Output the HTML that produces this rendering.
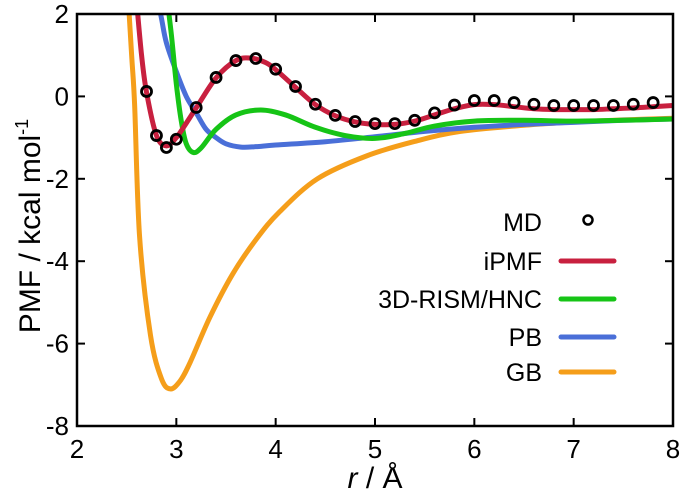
<!DOCTYPE html>
<html><head><meta charset="utf-8"><style>
body{margin:0;background:#fff}
svg{display:block;font-family:"Liberation Sans",sans-serif}
</style></head><body>
<svg id="c" width="680" height="496" viewBox="0 0 680 496">
<defs><clipPath id="cp"><rect x="77" y="14" width="596" height="412"/></clipPath></defs>
<g id="series" clip-path="url(#cp)"></g>
<g id="axes"></g>
<g id="legend"></g>
<text x="375" y="488" text-anchor="middle" font-size="30"><tspan font-style="italic">r</tspan> / Å</text>
<text transform="translate(40,226) rotate(-90)" text-anchor="middle" font-size="30">PMF / kcal mol<tspan font-size="18" dy="-12">-1</tspan></text>
</svg>
<script>
const xTicks=[2,3,4,5,6,7,8];
const yTicks=[2,0,-2,-4,-6,-8];
const mdR=[2.7,2.8,2.9,3.0,3.2,3.4,3.6,3.8,4.0,4.2,4.4,4.6,4.8,5.0,5.2,5.4,5.6,5.8,6.0,6.2,6.4,6.6,6.8,7.0,7.2,7.4,7.6,7.8];
const mdV=[0.12,-0.95,-1.24,-1.04,-0.27,0.46,0.87,0.92,0.66,0.24,-0.19,-0.46,-0.61,-0.66,-0.66,-0.58,-0.40,-0.21,-0.10,-0.10,-0.15,-0.19,-0.22,-0.22,-0.22,-0.22,-0.19,-0.15];
const ipR=[2.6,2.65,2.7,2.8,2.9,3.0,3.1,3.2,3.4,3.6,3.75,3.9,4.0,4.2,4.4,4.6,4.8,5.0,5.2,5.4,5.6,5.8,6.0,6.2,6.4,6.6,6.8,7.0,7.2,7.4,7.6,7.8,8.0];
const ipV=[2.3,1.0,0.1,-0.95,-1.2,-1.0,-0.65,-0.28,0.45,0.87,0.93,0.82,0.65,0.22,-0.2,-0.47,-0.62,-0.68,-0.68,-0.6,-0.45,-0.3,-0.2,-0.2,-0.25,-0.3,-0.32,-0.32,-0.32,-0.3,-0.28,-0.25,-0.22];
const rsR=[2.9,2.95,3.0,3.05,3.1,3.17,3.25,3.4,3.6,3.85,4.1,4.4,4.7,5.0,5.3,5.6,6.0,6.5,7.0,7.5,8.0];
const rsV=[2.5,1.5,0.3,-0.6,-1.15,-1.36,-1.25,-0.8,-0.45,-0.33,-0.45,-0.75,-0.95,-1.02,-0.9,-0.72,-0.6,-0.58,-0.6,-0.58,-0.55];
const pbR=[2.8,2.85,2.9,3.0,3.1,3.2,3.3,3.4,3.5,3.65,3.8,4.0,4.5,5.0,5.5,6.0,6.5,7.0,7.5,8.0];
const pbV=[2.5,1.9,1.3,0.6,0.0,-0.4,-0.8,-1.0,-1.15,-1.23,-1.22,-1.18,-1.1,-0.98,-0.85,-0.75,-0.68,-0.63,-0.58,-0.55];
const gbR=[2.5,2.55,2.58,2.63,2.74,2.85,2.94,3.04,3.14,3.34,3.57,3.81,4.04,4.42,4.92,5.42,5.86,6.5,7.0,7.5,8.0];
const gbV=[3,1.0,-0.2,-3.4,-5.8,-6.85,-7.1,-6.9,-6.45,-5.35,-4.3,-3.45,-2.8,-2.0,-1.44,-1.08,-0.85,-0.7,-0.62,-0.57,-0.53];

const X0=77,X1=673,Y0=14,Y1=426;
const sx=r=>X0+(r-2)/6*(X1-X0);
const sy=v=>Y0+(2-v)/10*(Y1-Y0);
const NS="http://www.w3.org/2000/svg";
function mk(tag,attrs,parent){const e=document.createElementNS(NS,tag);for(const k in attrs)e.setAttribute(k,attrs[k]);parent.appendChild(e);return e;}
function path(rs,vs){
  const p=rs.map((r,i)=>[sx(r),sy(vs[i])]);
  let d="M"+p[0][0]+","+p[0][1];
  for(let i=0;i<p.length-1;i++){
    const a=p[i-1]||p[i],b=p[i],c=p[i+1],e=p[i+2]||c;
    d+=" C"+(b[0]+(c[0]-a[0])/6)+","+(b[1]+(c[1]-a[1])/6)+" "+(c[0]-(e[0]-b[0])/6)+","+(c[1]-(e[1]-b[1])/6)+" "+c[0]+","+c[1];
  }
  return d;
}
const S=document.getElementById('series'),A=document.getElementById('axes'),L=document.getElementById('legend');
const series=[[gbR,gbV,'#f59e1a','gb-line'],[pbR,pbV,'#4a6fd8','pb-line'],[rsR,rsV,'#16c416','3d-rism-line'],[ipR,ipV,'#c8203f','ipmf-line']];
series.forEach(s=>{
  const e=mk('path',{d:path(s[0],s[1]),fill:'none',stroke:s[2],'stroke-width':5,'stroke-linejoin':'round'},S);
  
  
});
mdR.forEach((r,i)=>{
  const e=mk('circle',{cx:sx(r),cy:sy(mdV[i]),r:5,fill:'none',stroke:'#000','stroke-width':2.8},S);
  
  
});
const fr=mk('rect',{x:X0,y:Y0,width:X1-X0,height:Y1-Y0,fill:'none',stroke:'#000','stroke-width':2.5},A);


xTicks.forEach(t=>{
  const x=sx(t);
  mk('line',{x1:x,x2:x,y1:Y1,y2:Y1-8,stroke:'#000','stroke-width':2},A);
  mk('line',{x1:x,x2:x,y1:Y0,y2:Y0+8,stroke:'#000','stroke-width':2},A);
  const e=mk('text',{x:x,y:Y1+32,'text-anchor':'middle','font-size':26},A);e.textContent=t;
  
  
});
yTicks.forEach(t=>{
  const y=sy(t);
  mk('line',{x1:X0,x2:X0+8,y1:y,y2:y,stroke:'#000','stroke-width':2},A);
  mk('line',{x1:X1,x2:X1-8,y1:y,y2:y,stroke:'#000','stroke-width':2},A);
  const e=mk('text',{x:X0-8,y:y+9,'text-anchor':'end','font-size':26},A);e.textContent=t;
  
  
});
const leg=[['MD',null],['iPMF','#c8203f'],['3D-RISM/HNC','#16c416'],['PB','#4a6fd8'],['GB','#f59e1a']];
const legY=[222,261,299,337,372];
leg.forEach((l,i)=>{
  const y=legY[i];
  const t=mk('text',{x:542,y:y+9,'text-anchor':'end','font-size':25},L);t.textContent=l[0];
  
  
  let m;
  if(l[1])m=mk('line',{x1:561,x2:614,y1:y,y2:y,stroke:l[1],'stroke-width':5,'stroke-linecap':'round'},L);
  else m=mk('circle',{cx:588,cy:y-2,r:4.5,fill:'none',stroke:'#000','stroke-width':2.5},L);
  
  
});
</script>
</body></html>
